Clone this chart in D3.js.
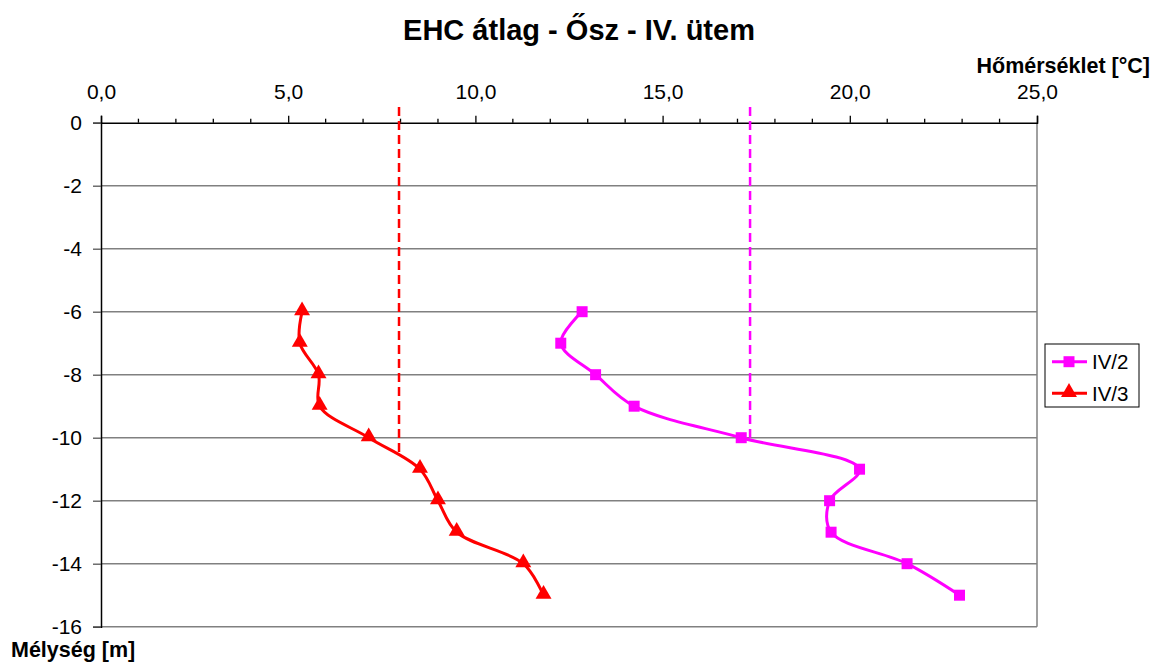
<!DOCTYPE html>
<html>
<head>
<meta charset="utf-8">
<script src="https://cdn.jsdelivr.net/npm/d3@7/dist/d3.min.js"></script>
<style>
  html, body { margin: 0; padding: 0; background: #fff; }
  svg { display: block; font-family: "Liberation Sans", Arial, sans-serif; }
</style>
</head>
<body>
<svg id="chart" width="1160" height="667"></svg>
<script>
// Depths of the measurement points [m]
const depths = [-6, -7, -8, -9, -10, -11, -12, -13, -14, -15];
// Temperatures per borehole [°C]
const seriesNames = ["IV/2", "IV/3"];
const tempIV2 = [12.85, 12.28, 13.21, 14.24, 17.10, 20.26, 19.46, 19.50, 21.53, 22.93];
const tempIV3 = [5.37, 5.31, 5.81, 5.84, 7.15, 8.52, 9.00, 9.50, 11.28, 11.82];
const seriesColors = ["#ff00ff", "#ff0000"];
// Vertical extent of the average lines [m]
const meanTop = [0.5, 0.5];
const meanBottom = [-10, -10.5];
// Axis ticks
const xTicks = [0, 5, 10, 15, 20, 25];
const xMinorTicks = d3.range(0, 26, 1);
const yTicks = [0, -2, -4, -6, -8, -10, -12, -14, -16];

const svg = d3.select("#chart");
const plotLeft = 101, plotRight = 1037, plotTop = 122.7, plotBottom = 626.7;

const x = d3.scaleLinear().domain([0, 25]).range([plotLeft, plotRight]);
const y = d3.scaleLinear().domain([0, -16]).range([plotTop, plotBottom]);
const fmt = v => d3.format(".1f")(v).replace(".", ",");

// Title
svg.append("text")
  .attr("x", 579).attr("y", 40)
  .attr("text-anchor", "middle")
  .attr("font-size", 29).attr("font-weight", "bold")
  .text("EHC átlag - Ősz - IV. ütem");

// Horizontal grid lines
svg.append("g").selectAll("line")
  .data(yTicks.filter(d => d !== 0))
  .join("line")
  .attr("x1", plotLeft).attr("x2", plotRight)
  .attr("y1", d => y(d)).attr("y2", d => y(d))
  .attr("stroke", "#808080").attr("stroke-width", 1.5);

// Right border
svg.append("line")
  .attr("x1", plotRight).attr("x2", plotRight)
  .attr("y1", plotTop).attr("y2", plotBottom)
  .attr("stroke", "#808080").attr("stroke-width", 1.5);

// Top temperature axis
const xAxis = d3.axisTop(x).tickValues(xTicks).tickFormat(fmt).tickSize(7).tickPadding(17);
const gx = svg.append("g").attr("transform", `translate(0,${plotTop})`).call(xAxis);
gx.select(".domain").attr("stroke", "#000").attr("stroke-width", 1.5);
gx.selectAll(".tick line").attr("stroke", "#000").attr("stroke-width", 1.3);
gx.selectAll(".tick text").attr("font-size", 21).attr("fill", "#000")
  .attr("font-family", "Liberation Sans, Arial, sans-serif");
gx.append("g").selectAll("line")
  .data(xMinorTicks.filter(d => !xTicks.includes(d)))
  .join("line")
  .attr("x1", d => x(d)).attr("x2", d => x(d))
  .attr("y1", 0).attr("y2", -4)
  .attr("stroke", "#000").attr("stroke-width", 1.3);

// Left depth axis
const yAxis = d3.axisLeft(y).tickValues(yTicks).tickSize(8).tickPadding(11);
const gy = svg.append("g").attr("transform", `translate(${plotLeft},0)`).call(yAxis);
gy.select(".domain").attr("stroke", "#000").attr("stroke-width", 1.5);
gy.selectAll(".tick line").attr("stroke", "#555").attr("stroke-width", 1.3);
gy.selectAll(".tick text").attr("font-size", 21).attr("fill", "#000")
  .attr("font-family", "Liberation Sans, Arial, sans-serif")
  .text(d => String(d));

// Axis titles
svg.append("text")
  .attr("x", 1150).attr("y", 72.5)
  .attr("text-anchor", "end")
  .attr("font-size", 21.5).attr("font-weight", "bold")
  .text("Hőmérséklet [°C]");
svg.append("text")
  .attr("x", 11).attr("y", 657)
  .attr("font-size", 21.5).attr("font-weight", "bold")
  .text("Mélység [m]");

const seriesData = [tempIV2, tempIV3].map((temps, i) => ({
  name: seriesNames[i],
  color: seriesColors[i],
  points: temps.map((t, j) => ({ t, d: depths[j] })),
  mean: d3.mean(temps)
}));

// Average temperature lines (dashed)
svg.append("g").selectAll("line")
  .data(seriesData)
  .join("line")
  .attr("x1", d => x(d.mean)).attr("x2", d => x(d.mean))
  .attr("y1", (d, i) => y(meanTop[i])).attr("y2", (d, i) => y(meanBottom[i]))
  .attr("stroke", d => d.color).attr("stroke-width", 2.5)
  .attr("stroke-dasharray", "9,5");

// Smoothed profile lines
const line = d3.line()
  .x(p => x(p.t)).y(p => y(p.d))
  .curve(d3.curveCatmullRom.alpha(0.5));

const squareSym = d3.symbol().type(d3.symbolSquare).size(121);
const triSym = d3.symbol().type(d3.symbolTriangle).size(110);

seriesData.forEach((s, i) => {
  svg.append("path")
    .datum(s.points)
    .attr("d", line)
    .attr("fill", "none")
    .attr("stroke", s.color)
    .attr("stroke-width", 3);
  svg.append("g").selectAll("path")
    .data(s.points)
    .join("path")
    .attr("transform", p => `translate(${x(p.t)},${y(p.d) + (i === 1 ? -1 : 0)})`)
    .attr("d", i === 0 ? squareSym : triSym)
    .attr("fill", s.color);
});

// Legend
const lg = svg.append("g").attr("transform", "translate(1045,344)");
lg.append("rect")
  .attr("width", 94).attr("height", 63)
  .attr("fill", "#fff").attr("stroke", "#000").attr("stroke-width", 1);
seriesData.forEach((s, i) => {
  const cy = 17.7 + i * 31.6;
  lg.append("line")
    .attr("x1", 7).attr("x2", 42).attr("y1", cy).attr("y2", cy)
    .attr("stroke", s.color).attr("stroke-width", 3);
  lg.append("path")
    .attr("transform", `translate(24,${cy + (i === 1 ? -1 : 0)})`)
    .attr("d", i === 0 ? squareSym : triSym)
    .attr("fill", s.color);
  lg.append("text")
    .attr("x", 47).attr("y", cy + 7.5)
    .attr("font-size", 20.5)
    .text(s.name);
});
</script>
</body>
</html>
